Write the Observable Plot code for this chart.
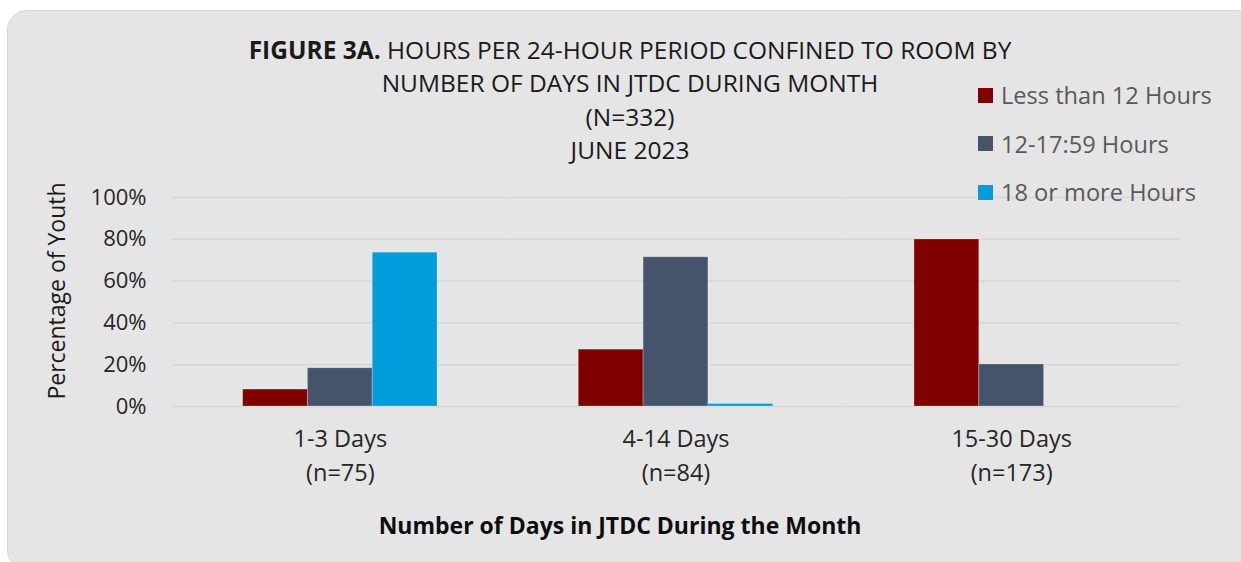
<!DOCTYPE html>
<html>
<head>
<meta charset="utf-8">
<script src="https://cdn.jsdelivr.net/npm/d3@7"></script>
<script src="https://cdn.jsdelivr.net/npm/@observablehq/plot@0.6"></script>
<style>
  html, body { margin: 0; padding: 0; background: #ffffff; width: 1241px; height: 562px; overflow: hidden; }
  body { font-family: "Open Sans", "Noto Sans", sans-serif; }
  #panel { position: absolute; left: 7px; top: 10px; width: 1250px; height: 560px; background: #e5e5e5;
           border: 1.5px solid #d6d6d6; border-radius: 20px; box-sizing: border-box; }
  .abs { position: absolute; white-space: nowrap; }
  #title { left: 0; width: 1260px; top: 33px; text-align: center; font-size: 24.5px; line-height: 33.4px; color: #1a1a1a; }
  #title b { font-weight: 700; }
  #legend { left: 978px; top: 71px; font-size: 23.6px; color: #595959; }
  .lg { height: 48.5px; display: flex; align-items: center; }
  .sw { width: 15px; height: 15px; margin-right: 8px; flex: none; }
  #ytitle { left: 56px; top: 291px; transform: translate(-50%, -50%) rotate(-90deg); font-size: 23px; color: #1a1a1a; }
  #xtitle { left: 620px; top: 525px; transform: translate(-50%, -50%); font-size: 23px; font-weight: 700; color: #0d0d0d; }
  #chart { position: absolute; left: 0; top: 0; }
</style>
</head>
<body>
<div id="panel"></div>
<div id="chart"></div>
<div id="title" class="abs"></div>
<div id="legend" class="abs"></div>
<div id="ytitle" class="abs"></div>
<div id="xtitle" class="abs"></div>
<script>
// ---- data ----
const groups = ["1-3 Days", "4-14 Days", "15-30 Days"];
const groupN = ["(n=75)", "(n=84)", "(n=173)"];
const series = ["Less than 12 Hours", "12-17:59 Hours", "18 or more Hours"];
const colors = ["#800000", "#44546a", "#009ddc"];
const lessThan12 = [8.1, 27.2, 79.9];
const from12to18 = [18.3, 71.4, 20.1];
const over18 = [73.6, 1.2, 0];
const yTicks = [0, 20, 40, 60, 80, 100];
const titleLines = ["HOURS PER 24-HOUR PERIOD CONFINED TO ROOM BY", "NUMBER OF DAYS IN JTDC DURING MONTH", "(N=332)", "JUNE 2023"];
const titleBold = "FIGURE 3A.";
const yLabel = "Percentage of Youth";
const xLabel = "Number of Days in JTDC During the Month";

const seriesValues = [lessThan12, from12to18, over18];
const rows = [];
groups.forEach((g, gi) => series.forEach((s, si) => rows.push({group: g, series: s, value: seriesValues[si][gi]})));
const nLabel = Object.fromEntries(groups.map((g, i) => [g, groupN[i]]));

const chart = Plot.plot({
  width: 1241,
  height: 562,
  marginLeft: 172,
  marginRight: 62,
  marginTop: 197,
  marginBottom: 156,
  style: { background: "transparent", fontFamily: "'Open Sans', 'Noto Sans', sans-serif", color: "#262626", overflow: "visible" },
  fx: { domain: groups, padding: 0, round: false, label: null, axis: null },
  x: { domain: series, paddingInner: 0, paddingOuter: 1.09, round: false, axis: null },
  y: { domain: [0, 100], axis: null },
  color: { domain: series, range: colors },
  marks: [
    Plot.ruleY(yTicks, { stroke: "#d6d6d6", strokeWidth: 1.5, inset: 0 }),
    Plot.barY(rows, { fx: "group", x: "series", y: "value", fill: "series", stroke: "#ffffff", strokeOpacity: 0.25, strokeWidth: 1 }),
    Plot.axisY({ ticks: yTicks, tickFormat: d => d + "%", tickSize: 0, tickPadding: 26, fontSize: 22, label: null, facetAnchor: "left" }),
    Plot.axisFx({ anchor: "bottom", tickSize: 0, tickPadding: 24, fontSize: 23.5, label: null }),
    Plot.axisFx({ anchor: "bottom", tickSize: 0, tickPadding: 58, fontSize: 23.5, label: null, tickFormat: d => nLabel[d] })
  ]
});
document.getElementById("chart").appendChild(chart);

// title
const t = document.getElementById("title");
t.innerHTML = "<div><b>" + titleBold + "</b> " + titleLines[0] + "</div>" + titleLines.slice(1).map(l => "<div>" + l + "</div>").join("");
// legend
const lg = document.getElementById("legend");
series.forEach((s, i) => {
  const r = document.createElement("div"); r.className = "lg";
  const sw = document.createElement("div"); sw.className = "sw"; sw.style.background = colors[i];
  const tx = document.createElement("span"); tx.textContent = s;
  r.appendChild(sw); r.appendChild(tx); lg.appendChild(r);
});
document.getElementById("ytitle").textContent = yLabel;
document.getElementById("xtitle").textContent = xLabel;
</script>
</body>
</html>
